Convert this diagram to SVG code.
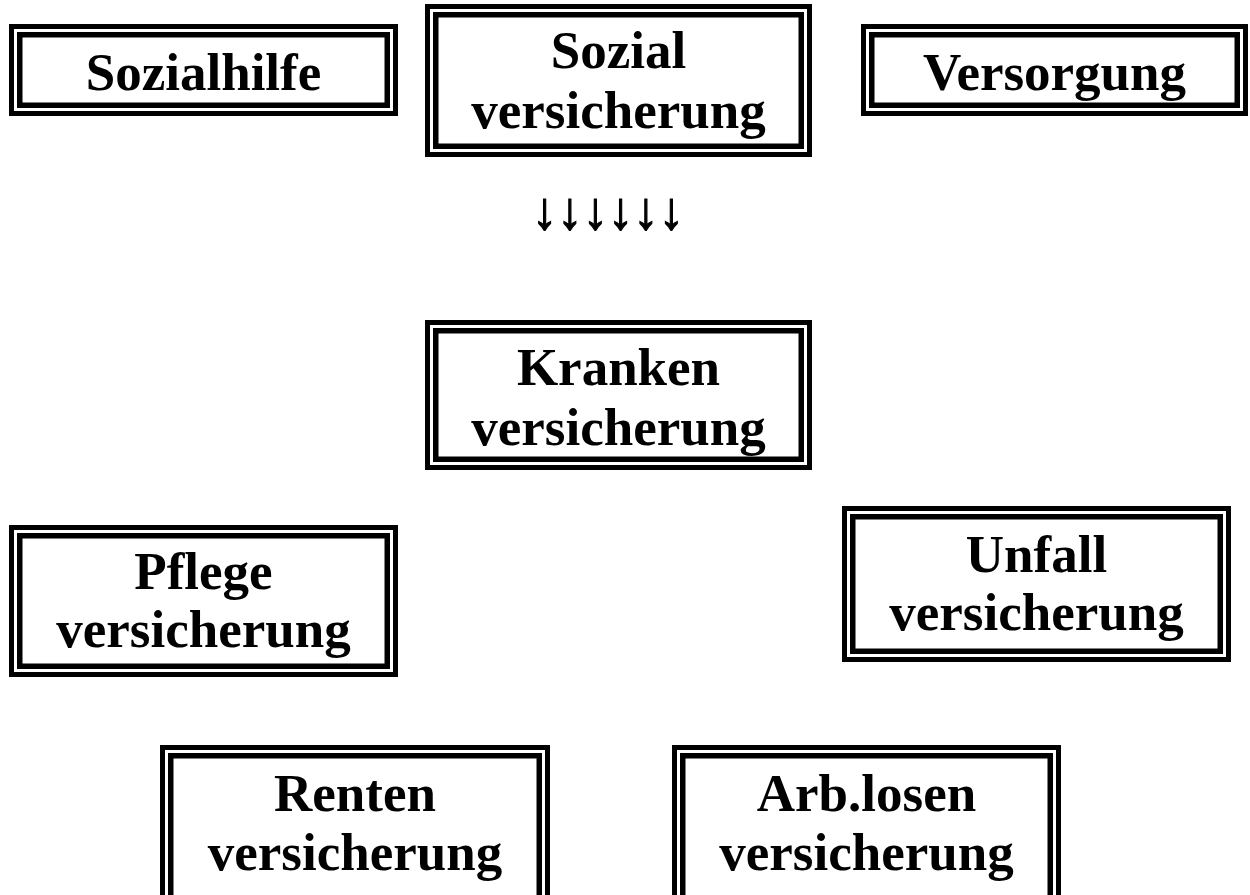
<svg xmlns="http://www.w3.org/2000/svg" width="1250" height="895" viewBox="0 0 1250 895">
<style>
.o{fill:#fff;stroke:#000;stroke-width:5}
.i{fill:none;stroke:#000;stroke-width:5.5}
.t{font-family:"Liberation Serif","Times New Roman",serif;font-weight:bold;font-size:53px;fill:#000;text-anchor:middle}
.a{font-family:"Liberation Sans",Arial,sans-serif;font-size:53px;fill:#000;stroke:#000;stroke-width:1.2;text-anchor:middle}
</style>
<rect width="1250" height="895" fill="#fff"/>
<g id="sozialhilfe">
<rect class="o" x="11.5" y="26.5" width="384" height="87"/>
<rect class="i" x="19.75" y="34.75" width="367.5" height="70.5"/>
<text class="t" x="203.5" y="90">Sozialhilfe</text>
</g>
<g id="sozialversicherung">
<rect class="o" x="427.5" y="6.5" width="382" height="148"/>
<rect class="i" x="435.75" y="14.75" width="365.5" height="131.5"/>
<text class="t" x="618.5" y="68">Sozial</text>
<text class="t" x="618.5" y="128">versicherung</text>
</g>
<g id="versorgung">
<rect class="o" x="863.5" y="26.5" width="382" height="87"/>
<rect class="i" x="871.75" y="34.75" width="365.5" height="70.5"/>
<text class="t" x="1054.5" y="90">Versorgung</text>
</g>
<g id="connectors">
<text class="a" x="608" y="229" textLength="152" lengthAdjust="spacingAndGlyphs">↓↓↓↓↓↓</text>
</g>
<g id="krankenversicherung">
<rect class="o" x="427.5" y="322.5" width="382" height="145"/>
<rect class="i" x="435.75" y="330.75" width="365.5" height="128.5"/>
<text class="t" x="618.5" y="385">Kranken</text>
<text class="t" x="618.5" y="445">versicherung</text>
</g>
<g id="pflegeversicherung">
<rect class="o" x="11.5" y="527.5" width="384" height="147"/>
<rect class="i" x="19.75" y="535.75" width="367.5" height="130.5"/>
<text class="t" x="203.5" y="589">Pflege</text>
<text class="t" x="203.5" y="647">versicherung</text>
</g>
<g id="unfallversicherung">
<rect class="o" x="844.5" y="508.5" width="384" height="151"/>
<rect class="i" x="852.75" y="516.75" width="367.5" height="134.5"/>
<text class="t" x="1036.5" y="572">Unfall</text>
<text class="t" x="1036.5" y="630">versicherung</text>
</g>
<g id="rentenversicherung">
<rect class="o" x="162.5" y="747.5" width="385" height="165"/>
<rect class="i" x="170.75" y="755.75" width="368.5" height="148.5"/>
<text class="t" x="355" y="811">Renten</text>
<text class="t" x="355" y="870">versicherung</text>
</g>
<g id="arblosenversicherung">
<rect class="o" x="674.5" y="747.5" width="384" height="165"/>
<rect class="i" x="682.75" y="755.75" width="367.5" height="148.5"/>
<text class="t" x="866.5" y="811">Arb.losen</text>
<text class="t" x="866.5" y="870">versicherung</text>
</g>
</svg>
